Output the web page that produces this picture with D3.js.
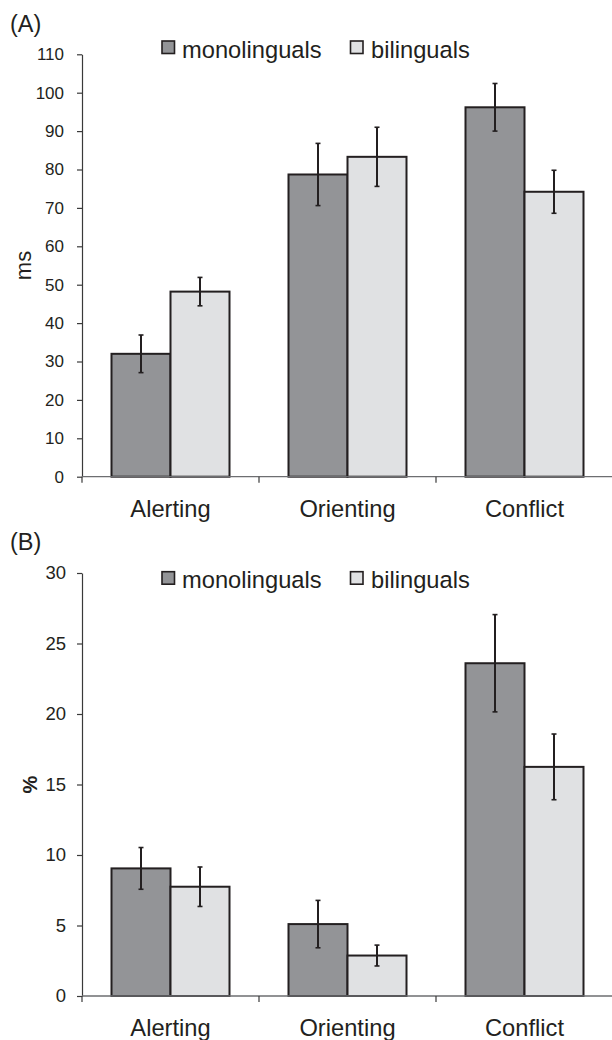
<!DOCTYPE html>
<html>
<head>
<meta charset="utf-8">
<script src="https://cdn.jsdelivr.net/npm/d3@7/dist/d3.min.js"></script>
<style>
  html, body { margin: 0; padding: 0; background: #fff; }
  svg { display: block; }
  text { font-family: "Liberation Sans", Arial, Helvetica, sans-serif; fill: #231f20; }
</style>
</head>
<body>
<svg id="chart" width="612" height="1040"></svg>
<script>
// ---- data ----
const categories = ["Alerting", "Orienting", "Conflict"];
const seriesNames = ["monolinguals", "bilinguals"];

// Panel A: RT effects (ms)
const msMono = [32.0, 78.7, 96.2];
const msBili = [48.2, 83.3, 74.2];
const msMonoErr = [4.9, 8.1, 6.2];
const msBiliErr = [3.7, 7.7, 5.6];
const msTicks = [0, 10, 20, 30, 40, 50, 60, 70, 80, 90, 100, 110];

// Panel B: error effects (%)
const pctMono = [9.05, 5.1, 23.6];
const pctBili = [7.75, 2.87, 16.25];
const pctMonoErr = [1.48, 1.68, 3.45];
const pctBiliErr = [1.4, 0.74, 2.33];
const pctTicks = [0, 5, 10, 15, 20, 25, 30];

const colors = { monolinguals: "#939497", bilinguals: "#e0e1e3" };
const ink = "#231f20";

const svg = d3.select("#chart");

function panel(cfg) {
  const g = svg.append("g");
  const x0 = d3.scaleBand().domain(categories).range([82, 613]).paddingInner(0).paddingOuter(0);
  const bw = x0.bandwidth();
  const x1 = d3.scaleBand().domain(seriesNames).range([bw / 6, bw * 5 / 6]).padding(0);
  const y = d3.scaleLinear().domain([0, cfg.max]).range([cfg.y0, cfg.yTop]);

  // y axis
  const ya = g.append("g").attr("transform", "translate(82,0)")
    .call(d3.axisLeft(y).tickValues(cfg.ticks).tickSize(5).tickPadding(cfg.tickPad).tickSizeOuter(0));
  ya.select(".domain").attr("stroke", "#3a3a3a").attr("stroke-width", 1.2);
  ya.selectAll(".tick line").attr("stroke", "#3a3a3a").attr("stroke-width", 1.2);
  ya.selectAll(".tick text").attr("font-size", cfg.tickFont + "px")
    .attr("font-family", "'Liberation Sans', Arial, sans-serif").attr("fill", ink);

  // y-axis title (rotated)
  g.append("text")
    .attr("transform", `translate(${cfg.titleX},${(cfg.y0 + cfg.yTop) / 2}) rotate(-90)`)
    .attr("text-anchor", "middle")
    .attr("font-size", cfg.titleFont + "px")
    .attr("font-weight", cfg.titleWeight)
    .text(cfg.title);

  // bars
  const rows = categories.map((c, i) => ({
    cat: c,
    vals: [
      { s: "monolinguals", v: cfg.mono[i], e: cfg.monoErr[i] },
      { s: "bilinguals", v: cfg.bili[i], e: cfg.biliErr[i] }
    ]
  }));
  const grp = g.selectAll(".grp").data(rows).join("g")
    .attr("transform", d => `translate(${x0(d.cat)},0)`);
  grp.selectAll("rect").data(d => d.vals).join("rect")
    .attr("x", d => x1(d.s))
    .attr("width", x1.bandwidth())
    .attr("y", d => y(d.v))
    .attr("height", d => y(0) - y(d.v))
    .attr("fill", d => colors[d.s])
    .attr("stroke", ink)
    .attr("stroke-width", 2);

  // x axis line & boundary ticks
  g.append("line").attr("x1", 82).attr("x2", 613).attr("y1", y(0)).attr("y2", y(0))
    .attr("stroke", "#6d6e71").attr("stroke-width", 1.3);
  const bounds = categories.map(c => x0(c)).concat([x0.range()[1]]);
  g.selectAll(".xb").data(bounds).join("line")
    .attr("x1", d => d).attr("x2", d => d)
    .attr("y1", y(0)).attr("y2", y(0) + 6)
    .attr("stroke", "#3a3a3a").attr("stroke-width", 1.2);

  // error bars
  const eb = grp.selectAll(".eb").data(d => d.vals).join("g");
  const cx = d => x1(d.s) + x1.bandwidth() / 2;
  eb.append("line").attr("x1", cx).attr("x2", cx)
    .attr("y1", d => y(d.v + d.e)).attr("y2", d => y(d.v - d.e))
    .attr("stroke", ink).attr("stroke-width", 2);
  eb.append("line").attr("x1", d => cx(d) - 2.5).attr("x2", d => cx(d) + 2.5)
    .attr("y1", d => y(d.v + d.e)).attr("y2", d => y(d.v + d.e))
    .attr("stroke", ink).attr("stroke-width", 1.6);
  eb.append("line").attr("x1", d => cx(d) - 2.5).attr("x2", d => cx(d) + 2.5)
    .attr("y1", d => y(d.v - d.e)).attr("y2", d => y(d.v - d.e))
    .attr("stroke", ink).attr("stroke-width", 1.6);

  // category labels
  g.selectAll(".cl").data(categories).join("text")
    .attr("x", d => x0(d) + bw / 2)
    .attr("y", y(0) + cfg.catOffset)
    .attr("text-anchor", "middle")
    .attr("font-size", "23.7px")
    .text(d => d);

  // legend
  const legX = [162, 350.5];
  const legTX = [182, 371];
  seriesNames.forEach((s, i) => {
    g.append("rect").attr("x", legX[i]).attr("y", cfg.legY).attr("width", 12.5).attr("height", 12.5)
      .attr("fill", colors[s]).attr("stroke", ink).attr("stroke-width", 1.6);
    g.append("text").attr("x", legTX[i]).attr("y", cfg.legY + 16.5)
      .attr("font-size", "23.7px").text(s);
  });

  // panel label
  g.append("text").attr("x", 10).attr("y", cfg.panelY).attr("font-size", "23.5px").text(cfg.panel);
}

panel({
  mono: msMono, bili: msBili, monoErr: msMonoErr, biliErr: msBiliErr,
  ticks: msTicks, max: 110, y0: 476.7, yTop: 54.3,
  tickPad: 13, tickFont: 17, title: "ms", titleX: 30.5, titleFont: 22, titleWeight: "normal",
  catOffset: 40, legY: 41, panelY: 31.5, panel: "(A)"
});

panel({
  mono: pctMono, bili: pctBili, monoErr: pctMonoErr, biliErr: pctBiliErr,
  ticks: pctTicks, max: 30, y0: 996, yTop: 573,
  tickPad: 11, tickFont: 18.5, title: "%", titleX: 36.5, titleFont: 20, titleWeight: "bold",
  catOffset: 39.5, legY: 571.7, panelY: 550, panel: "(B)"
});
</script>
</body>
</html>
